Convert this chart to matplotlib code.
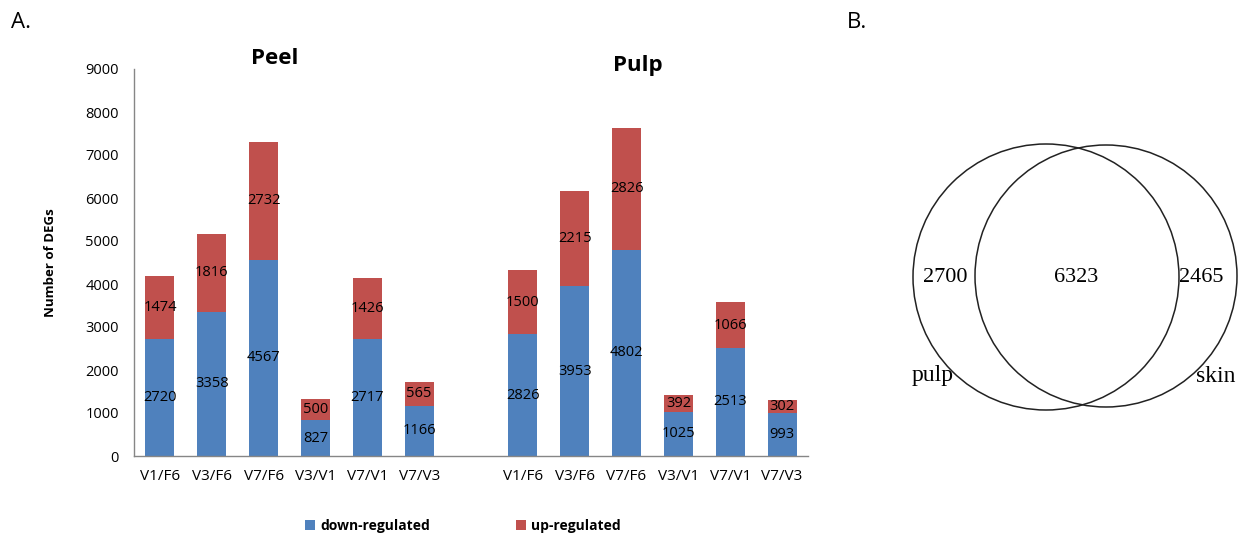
import matplotlib
matplotlib.use("Agg")
import matplotlib.pyplot as plt
from matplotlib.patches import Circle, Patch
import numpy as np

plt.rcParams['font.family'] = ['Open Sans', 'DejaVu Sans']

comparisons = ["V1/F6", "V3/F6", "V7/F6", "V3/V1", "V7/V1", "V7/V3"]
peel_down = [2720, 3358, 4567, 827, 2717, 1166]
peel_up = [1474, 1816, 2732, 500, 1426, 565]
pulp_down = [2826, 3953, 4802, 1025, 2513, 993]
pulp_up = [1500, 2215, 2826, 392, 1066, 302]
yticks = list(range(0, 9001, 1000))

venn_pulp_only = 2700
venn_shared = 6323
venn_skin_only = 2465

BLUE = "#4F81BD"
RED = "#C0504D"

W, H = 1248, 535
fig = plt.figure(figsize=(W / 100, H / 100), dpi=100)

ax = fig.add_axes([134 / W, (H - 456) / H, (808 - 134) / W, (456 - 69) / H])

n = len(comparisons)
pos_peel = np.arange(n)
pos_pulp = np.arange(n) + n + 1
down = peel_down + pulp_down
up = peel_up + pulp_up
pos = np.concatenate([pos_peel, pos_pulp])
bw = 0.56
ax.bar(pos, down, width=bw, color=BLUE, zorder=2)
ax.bar(pos, up, width=bw, bottom=down, color=RED, zorder=2)
for p, d, u in zip(pos, down, up):
    ax.text(p, d / 2, str(d), ha="center", va="center", fontsize=10.5, color="black")
    ax.text(p, d + u / 2, str(u), ha="center", va="center", fontsize=10.5, color="black")

ax.set_xlim(-0.5, 2 * n + 0.5)
ax.set_ylim(0, 9000)
ax.set_yticks(yticks)
ax.set_yticklabels([str(t) for t in yticks], fontsize=10.5)
ax.set_xticks(pos)
ax.set_xticklabels(comparisons + comparisons, fontsize=11)
ax.tick_params(axis="both", length=0)
ax.tick_params(axis="y", pad=11)
ax.tick_params(axis="x", pad=9)
for s in ["top", "right"]:
    ax.spines[s].set_visible(False)
for s in ["left", "bottom"]:
    ax.spines[s].set_color("#868686")
    ax.spines[s].set_linewidth(1.0)
ax.set_ylabel("Number of DEGs", fontsize=9.5, fontweight="bold", labelpad=20)

fig.text(275 / W, 1 - 58 / H, "Peel", ha="center", va="center", fontsize=16, fontweight="bold")
fig.text(638 / W, 1 - 66 / H, "Pulp", ha="center", va="center", fontsize=16, fontweight="bold")
fig.text(11 / W, 1 - 22 / H, "A.", ha="left", va="center", fontsize=16)
fig.text(847 / W, 1 - 22 / H, "B.", ha="left", va="center", fontsize=16)

handles = [Patch(facecolor=BLUE, label="down-regulated"), Patch(facecolor=RED, label="up-regulated")]
fig.legend(handles=handles, loc="center", bbox_to_anchor=(463 / W, 1 - 526 / H), ncol=2,
           frameon=False, handlelength=0.7, handleheight=0.7, handletextpad=0.4,
           columnspacing=6.2, prop={"weight": "bold", "size": 10})

# Venn diagram
vax = fig.add_axes([860 / W, 0, (W - 860) / W, 1])
vax.set_xlim(860, W)
vax.set_ylim(H, 0)
vax.axis("off")
vax.add_patch(Circle((1046, 277), 133, fill=False, edgecolor="#222222", linewidth=1.1))
vax.add_patch(Circle((1106, 276), 131, fill=False, edgecolor="#222222", linewidth=1.1))
serif = ["Liberation Serif", "DejaVu Serif"]
vax.text(945, 277, str(venn_pulp_only), ha="center", va="center", fontsize=16, family=serif)
vax.text(1076, 277, str(venn_shared), ha="center", va="center", fontsize=16, family=serif)
vax.text(1201, 277, str(venn_skin_only), ha="center", va="center", fontsize=16, family=serif)
vax.text(933, 376, "pulp", ha="center", va="center", fontsize=17, family=serif)
vax.text(1216, 376, "skin", ha="center", va="center", fontsize=17, family=serif)

fig.savefig("out.png", dpi=100)
